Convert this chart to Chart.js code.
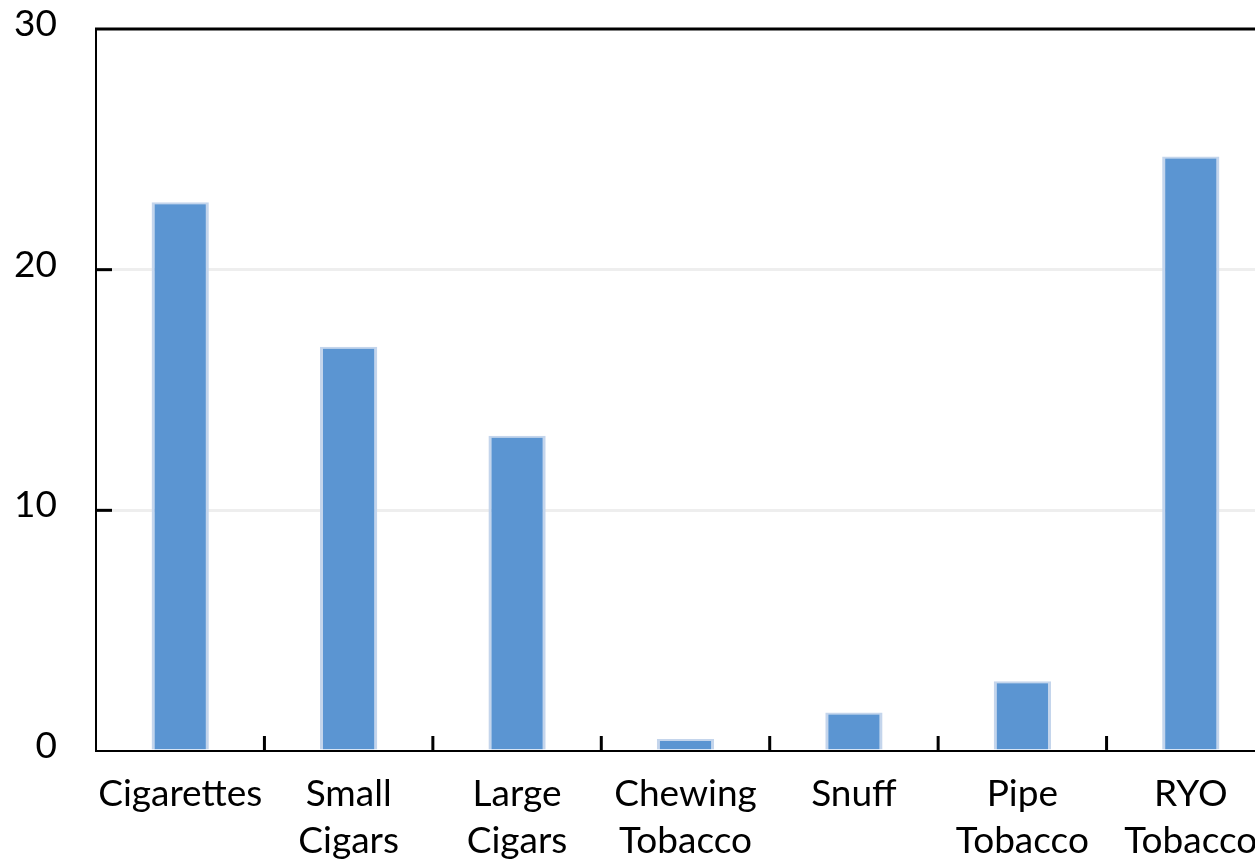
<!DOCTYPE html>
<html>
<head>
<meta charset="utf-8">
<title>Tobacco products</title>
<script src="https://cdn.jsdelivr.net/npm/chart.js@4/dist/chart.umd.min.js"></script>
<style>
  html, body { margin: 0; padding: 0; background: #ffffff; overflow: hidden; }
  #wrap { width: 1280px; height: 859px; position: relative; }
</style>
</head>
<body>
<div id="wrap"><canvas id="chart"></canvas></div>
<script>
// Product categories (multi-line labels)
const categories = [
  ['Cigarettes'],
  ['Small', 'Cigars'],
  ['Large', 'Cigars'],
  ['Chewing', 'Tobacco'],
  ['Snuff'],
  ['Pipe', 'Tobacco'],
  ['RYO', 'Tobacco']
];

// Series values
const values = [22.8, 16.8, 13.1, 0.5, 1.6, 2.9, 24.7];

// Value axis tick labels
const yTicks = [0, 10, 20, 30];

const FONT = 'Lato, "Open Sans", sans-serif';

// Frame and inward tick marks drawn on top of the chart area
const framePlugin = {
  id: 'frame',
  afterDatasetsDraw(chart) {
    const { ctx, chartArea: a, scales: { x, y } } = chart;
    ctx.save();
    ctx.strokeStyle = '#000000';
    ctx.lineCap = 'butt';

    // top border
    ctx.lineWidth = 3;
    ctx.beginPath();
    ctx.moveTo(a.left - 1, y.getPixelForValue(yTicks[yTicks.length - 1]));
    ctx.lineTo(a.right, y.getPixelForValue(yTicks[yTicks.length - 1]));
    ctx.stroke();

    // left axis line
    ctx.lineWidth = 2;
    ctx.beginPath();
    ctx.moveTo(a.left, a.top - 1);
    ctx.lineTo(a.left, a.bottom + 1);
    ctx.stroke();

    // bottom axis line
    ctx.beginPath();
    ctx.moveTo(a.left - 1, y.getPixelForValue(0));
    ctx.lineTo(a.right, y.getPixelForValue(0));
    ctx.stroke();

    // inward ticks on the value axis
    ctx.lineWidth = 3;
    yTicks.slice(1, -1).forEach(v => {
      const py = y.getPixelForValue(v);
      ctx.beginPath();
      ctx.moveTo(a.left, py);
      ctx.lineTo(a.left + 16, py);
      ctx.stroke();
    });

    // upward ticks between categories
    for (let i = 1; i < categories.length; i++) {
      const px = (x.getPixelForValue(i - 1) + x.getPixelForValue(i)) / 2;
      ctx.beginPath();
      ctx.moveTo(px, a.bottom);
      ctx.lineTo(px, a.bottom - 15);
      ctx.stroke();
    }
    ctx.restore();
  }
};

new Chart(document.getElementById('chart'), {
  type: 'bar',
  data: {
    labels: categories,
    datasets: [{
      data: values,
      backgroundColor: '#5b95d2',
      borderColor: '#c4d5ec',
      borderWidth: { left: 3, right: 3, top: 2, bottom: 0 },
      borderSkipped: false,
      barPercentage: 0.34,
      categoryPercentage: 1.0
    }]
  },
  options: {
    responsive: true,
    maintainAspectRatio: false,
    animation: false,
    devicePixelRatio: 1,
    layout: {
      padding: { left: 0, top: 29, right: 5, bottom: 0 }
    },
    plugins: {
      legend: { display: false },
      tooltip: { enabled: false }
    },
    scales: {
      x: {
        offset: true,
        grid: { display: false, drawTicks: false },
        border: { display: false },
        ticks: {
          padding: 19,
          maxRotation: 0,
          autoSkip: false,
          color: '#000000',
          font: { family: FONT, size: 37, lineHeight: 1.28 }
        },
        afterFit(scale) {
          scale.height = 108;
          scale.paddingLeft = 0;
          scale.paddingRight = 0;
        }
      },
      y: {
        min: 0,
        max: 30,
        grid: {
          color: (c) => (c.tick && (c.tick.value === 10 || c.tick.value === 20)) ? '#eeeeee' : 'rgba(0,0,0,0)',
          lineWidth: 3,
          drawTicks: false
        },
        border: { display: false },
        afterBuildTicks(scale) { scale.ticks = yTicks.map(v => ({ value: v })); },
        ticks: {
          padding: 39,
          labelOffset: -5,
          color: '#000000',
          font: { family: FONT, size: 37 }
        },
        afterFit(scale) {
          scale.width = 96;
          scale.paddingTop = 0;
          scale.paddingBottom = 0;
        }
      }
    }
  },
  plugins: [framePlugin]
});
</script>
</body>
</html>
